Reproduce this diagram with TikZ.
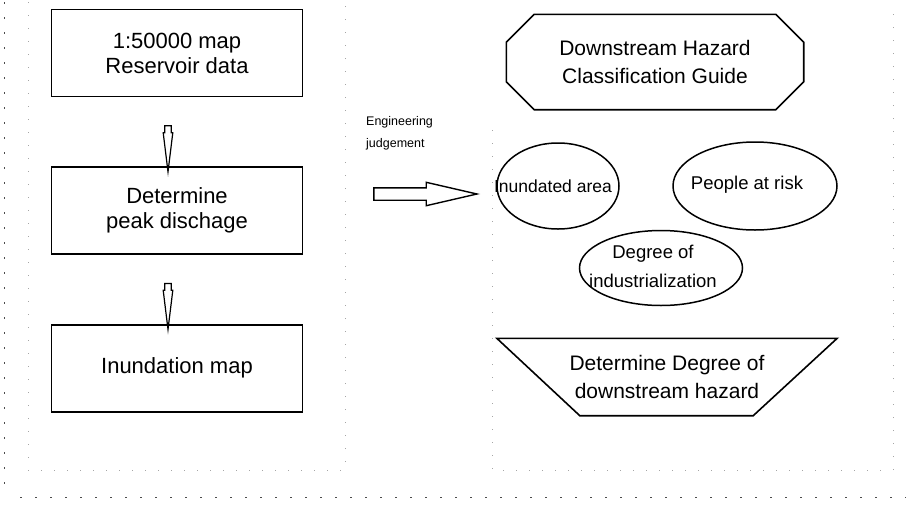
\documentclass[tikz,border=0pt]{standalone}
\usepackage{fontspec}
\setmainfont{Liberation Sans}
\usetikzlibrary{positioning,shapes.geometric,shapes.arrows,calc}

\begin{document}
\begin{tikzpicture}[
    x=1pt, y=-1pt,
    node distance=69pt,
    box/.style={rectangle, draw, line width=1.6pt, minimum width=251pt,
                minimum height=87pt, align=center,
                font=\fontsize{22}{25}\selectfont},
    oval/.style={ellipse, draw, line width=1.5pt, inner sep=0pt},
    ovaltext/.style={align=center, inner sep=0pt,
                     font=\fontsize{18.5}{29}\selectfont},
    shapetext/.style={minimum width=#1, align=center,
                      font=\fontsize{21}{28}\selectfont},
    downarr/.style={single arrow, draw, line width=1.2pt, shape border rotate=270,
                    minimum height=46pt, inner sep=2.6pt,
                    single arrow head extend=1.6pt, single arrow tip angle=14},
    rightarr/.style={single arrow, draw, line width=1.4pt, minimum height=103pt,
                     inner sep=5.5pt, single arrow head extend=5.5pt,
                     single arrow tip angle=26},
    frame/.style={black!70, line width=0.9pt, dash pattern=on 2pt off 13pt},
    group/.style={black!35, line width=0.7pt, dash pattern=on 1pt off 12pt}
]
\useasboundingbox (0,0) rectangle (906,504);

% dotted frames of the scan
\draw[frame] (4,2) -- (4,495);
\draw[frame] (20,497) -- (906,497);
\draw[group] (28,2) -- (28,470) -- (345,470) -- (345,2);
\draw[group] (492,130) -- (492,470) -- (893,470) -- (893,2);

% left column
\node[box] (map) at (177,53) {1:50000 map\\Reservoir data};
\node[box, below=69pt of map] (peak) {Determine\\peak dischage};
\node[box, below=69pt of peak] (inund) {Inundation map};

\node[downarr] (a1) at ($(map.south)!0.5!(peak.north)+(-9,4)$) {};
\node[downarr] (a2) at ($(peak.south)!0.5!(inund.north)+(-9,4)$) {};

% engineering judgement
\node[anchor=north west, align=left, inner sep=0pt,
      font=\fontsize{12.5}{22}\selectfont] (judge) at (366,116)
    {Engineering\\judgement};
\node[rightarr] (push) at (412,194) {};

% right column
\node[shapetext=297pt, minimum height=95pt] (guide) at (655,62)
    {Downstream Hazard\\Classification Guide};
\draw[line width=1.6pt]
    ($(guide.north west)+(28,0)$) -- ($(guide.north east)+(-28,0)$)
    -- ($(guide.north east)+(0,28)$) -- ($(guide.south east)+(0,-28)$)
    -- ($(guide.south east)+(-28,0)$) -- ($(guide.south west)+(28,0)$)
    -- ($(guide.south west)+(0,-28)$) -- ($(guide.north west)+(0,28)$)
    -- cycle;

\node[oval, minimum width=122pt, minimum height=86pt] (area) at (558,186) {};
\node[ovaltext, font=\fontsize{17.5}{20}\selectfont] (areatext)
    at ($(area.center)+(-5,0)$) {Inundated area};
\node[oval, minimum width=164pt, minimum height=88pt] (people) at (755,186) {};
\node[ovaltext] (peopletext) at ($(people.center)+(-8,-1)$) {People at risk};
\node[oval, minimum width=163pt, minimum height=75pt] (industry) at (661,268) {};
\node[ovaltext] (industrytext) at ($(industry.center)+(-8,-2)$)
    {Degree of\\industrialization};

\node[shapetext=340pt, minimum height=77pt] (hazard) at (667,377)
    {Determine Degree of\\downstream hazard};
\draw[line width=1.6pt]
    (hazard.north west) -- (hazard.north east)
    -- ($(hazard.south east)+(-84,0)$) -- ($(hazard.south west)+(83,0)$)
    -- cycle;
\end{tikzpicture}
\end{document}
